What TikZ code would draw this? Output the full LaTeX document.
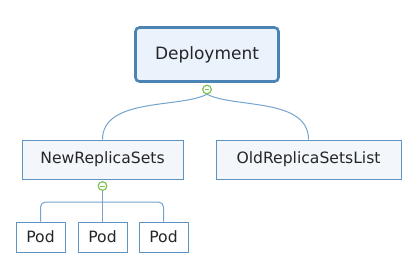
\documentclass[tikz,border=0pt]{standalone}
\usepackage{fontspec}
\setmainfont{DejaVu Sans}
\usetikzlibrary{calc}
\definecolor{bordA}{HTML}{4A83B4}
\definecolor{bordB}{HTML}{5F93C2}
\definecolor{fillA}{HTML}{EAF2FB}
\definecolor{fillB}{HTML}{F3F7FC}
\definecolor{linkc}{HTML}{73A3CE}
\definecolor{togc}{HTML}{7CBF4C}
\definecolor{txtc}{HTML}{262626}
\tikzset{
  rootbox/.style={draw=bordA, fill=fillA, line width=2.6pt, rounded corners=4pt,
    minimum width=143pt, minimum height=54pt, inner sep=0pt, text=txtc,
    font=\fontsize{17}{19}\selectfont},
  subbox/.style={draw=bordB, fill=fillB, line width=1pt,
    minimum height=39pt, inner sep=0pt, text=txtc,
    font=\fontsize{15.6}{18}\selectfont},
  podbox/.style={draw=bordB, fill=white, line width=1pt,
    minimum width=49pt, minimum height=30pt, inner sep=0pt, text=txtc,
    font=\fontsize{15.6}{18}\selectfont},
  toggle/.style={circle, draw=togc, fill=white, line width=1pt,
    minimum size=8.5pt, inner sep=0pt},
  link/.style={draw=linkc, line width=1pt},
}
\begin{document}
\begin{tikzpicture}[x=1pt, y=-1pt]
\useasboundingbox (0,0) rectangle (420,277);
% nodes
\node[rootbox] (dep) at (207,54.5) {Deployment};
\node[subbox, minimum width=161pt] (new) at (102.5,159.5) {NewReplicaSets};
\node[subbox, minimum width=185pt] (old) at (308.5,159.5) {OldReplicaSetsList};
\node[podbox] (p1) at (40.5,237) {Pod};
\node[podbox] (p2) at (102.5,237) {Pod};
\node[podbox] (p3) at (163.5,237) {Pod};
\node[toggle] (c1) at (207,89.5) {};
\node[toggle] (c2) at (102.5,186) {};
% connectors
\draw[link] (c1.south) .. controls ($(c1.south)+(-27,14)$) and ($(new.north)+(0,-42)$) .. (new.north);
\draw[link] (c1.south) .. controls ($(c1.south)+(27,14)$) and ($(old.north)+(0,-42)$) .. (old.north);
\draw[link] (c2.south) -- (p2.north);
\draw[link, rounded corners=5pt] (p1.north) |- ($(c2.center)+(0,16)$) -| (p3.north);
% toggles drawn over links
\node[toggle] at (c1) {};
\node[toggle] at (c2) {};
\draw[togc, line width=1pt] ($(c1.center)+(-2.3,0)$) -- ($(c1.center)+(2.3,0)$);
\draw[togc, line width=1pt] ($(c2.center)+(-2.3,0)$) -- ($(c2.center)+(2.3,0)$);
\end{tikzpicture}
\end{document}
